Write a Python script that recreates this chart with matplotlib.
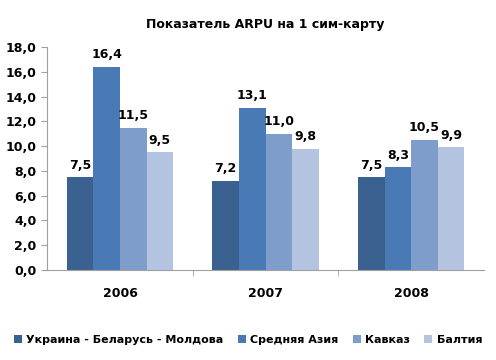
import numpy as np
import matplotlib
matplotlib.use('Agg')
import matplotlib.pyplot as plt

years = ['2006', '2007', '2008']
series_names = ['Украина - Беларусь - Молдова', 'Средняя Азия', 'Кавказ', 'Балтия']
ukraine = [7.5, 7.2, 7.5]
asia = [16.4, 13.1, 8.3]
caucasus = [11.5, 11.0, 10.5]
baltic = [9.5, 9.8, 9.9]
colors = ['#3B6190', '#4A7AB5', '#7E9DCB', '#B4C4E0']

plt.rcParams['font.family'] = ['DejaVu Sans']

fig = plt.figure(figsize=(4.96, 3.6), dpi=100)
ax = fig.add_axes([0.095, 0.25, 0.881, 0.619])

values = [ukraine, asia, caucasus, baltic]
x = np.arange(len(years))
w = 0.73 / 4
for i, (name, vals) in enumerate(zip(series_names, values)):
    pos = x - 0.365 + w * (i + 0.5)
    ax.bar(pos, vals, width=w, color=colors[i], label=name)
    for p, v in zip(pos, vals):
        ax.text(p, v + 0.45, f'{v:.1f}'.replace('.', ','), ha='center', va='bottom',
                fontsize=9, fontweight='bold')

ax.set_xlim(-0.5, 2.5)
ax.set_ylim(0, 18)
ax.set_yticks(np.arange(0, 18.1, 2))
ax.set_yticklabels([f'{t:.1f}'.replace('.', ',') for t in np.arange(0, 18.1, 2)],
                   fontsize=9, fontweight='bold')
ax.set_xticks(x)
ax.set_xticklabels(years, fontsize=9, fontweight='bold')
ax.set_xticks([0.5, 1.5], minor=True)
ax.tick_params(axis='x', which='major', length=0, pad=12)
ax.tick_params(axis='x', which='minor', length=4, color='#A0A0A0')
ax.tick_params(axis='y', length=4, color='#A0A0A0')

for s in ['top', 'right']:
    ax.spines[s].set_visible(False)
for s in ['left', 'bottom']:
    ax.spines[s].set_color('#A0A0A0')

ax.set_title('Показатель ARPU на 1 сим-карту', fontsize=9, fontweight='bold', pad=14)

fig.legend(loc='lower center', bbox_to_anchor=(0.5, 0.015), ncol=4, frameon=False,
           prop={'size': 8, 'weight': 'bold'}, handlelength=0.7, handleheight=0.7,
           handletextpad=0.4, columnspacing=1.3)

fig.savefig('out.png', dpi=100)
